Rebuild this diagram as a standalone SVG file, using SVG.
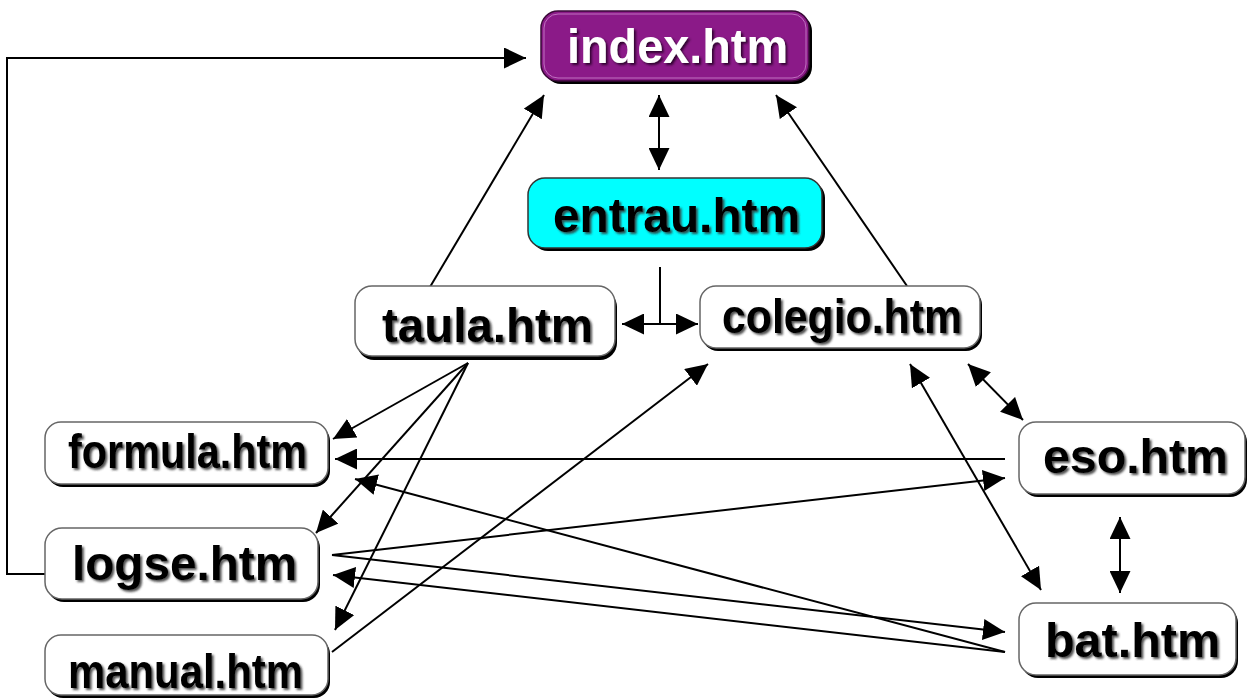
<svg xmlns="http://www.w3.org/2000/svg" width="1250" height="698" viewBox="0 0 1250 698">
<defs>
<style>
.edge{fill:none;stroke:#000;stroke-width:2}
.end{marker-end:url(#ah)}
.both{marker-start:url(#ah);marker-end:url(#ah)}
.shadow{fill:#000}
.wbox{fill:#fff;stroke:#666;stroke-width:1.5}
.lbl{font-family:"Liberation Sans",Arial,sans-serif;font-weight:bold;font-size:48px;fill:#000;filter:url(#ts)}
.lblw{font-family:"Liberation Sans",Arial,sans-serif;font-weight:bold;font-size:48px;fill:#fff;filter:url(#tsd)}
</style>
<marker id="ah" viewBox="0 0 22 21" refX="22" refY="10.5" markerWidth="22" markerHeight="21" markerUnits="userSpaceOnUse" orient="auto-start-reverse">
<path d="M0,0 L22,10.5 L0,21 Z" fill="#000"/>
</marker>
<filter id="ts" x="-10%" y="-20%" width="120%" height="150%">
<feDropShadow dx="2" dy="2" stdDeviation="1" flood-color="#333" flood-opacity="0.85"/>
</filter>
<filter id="tsd" x="-10%" y="-20%" width="120%" height="150%">
<feDropShadow dx="2" dy="2" stdDeviation="1" flood-color="#2a002a" flood-opacity="0.9"/>
</filter>
</defs>
<rect width="1250" height="698" fill="#fff"/>

<g id="connectors">
<polyline class="edge end" points="45,574 7,574 7,58 526,58"/>
<line class="edge end" x1="430" y1="287" x2="544" y2="95"/>
<line class="edge both" x1="659" y1="95" x2="659" y2="170"/>
<line class="edge end" x1="907" y1="286" x2="776" y2="95"/>
<polyline class="edge" points="660,267 660,324"/>
<line class="edge end" x1="660" y1="324" x2="622" y2="324"/>
<line class="edge end" x1="660" y1="324" x2="698" y2="324"/>
<line class="edge end" x1="468" y1="363" x2="333" y2="439"/>
<line class="edge end" x1="468" y1="363" x2="316" y2="533"/>
<line class="edge end" x1="468" y1="363" x2="335" y2="630"/>
<line class="edge end" x1="332" y1="652" x2="708" y2="364"/>
<line class="edge end" x1="1005" y1="459" x2="335" y2="459"/>
<line class="edge end" x1="332" y1="555" x2="1005" y2="478"/>
<line class="edge end" x1="332" y1="555" x2="1005" y2="632"/>
<line class="edge end" x1="1005" y1="652" x2="333" y2="575"/>
<line class="edge end" x1="1005" y1="652" x2="355" y2="479"/>
<line class="edge both" x1="910" y1="364" x2="1041" y2="590"/>
<line class="edge both" x1="968" y1="364" x2="1023" y2="420"/>
<line class="edge both" x1="1120" y1="517" x2="1120" y2="593"/>
</g>

<g id="index">
<rect class="shadow" x="544" y="14" width="268" height="70" rx="17"/>
<rect x="541" y="11" width="268" height="70" rx="17" fill="#8b1a88" stroke="#3a0a38" stroke-width="1.5"/>
<rect x="544" y="14" width="262" height="64" rx="14" fill="none" stroke="#c070c0" stroke-width="1"/>
<text class="lblw" x="567" y="63" textLength="221" lengthAdjust="spacingAndGlyphs">index.htm</text>
</g>

<g id="entrau">
<rect class="shadow" x="531" y="181" width="294" height="70" rx="17"/>
<rect x="528" y="178" width="294" height="70" rx="17" fill="#00ffff" stroke="#333" stroke-width="1.5"/>
<text class="lbl" x="553" y="232" textLength="247" lengthAdjust="spacingAndGlyphs">entrau.htm</text>
</g>

<g id="taula">
<rect class="shadow" x="357" y="290" width="260" height="70" rx="17"/>
<rect class="wbox" x="355" y="286" width="260" height="70" rx="17"/>
<text class="lbl" x="382" y="342" font-size="52" textLength="211" lengthAdjust="spacingAndGlyphs">taula.htm</text>
</g>

<g id="colegio">
<rect class="shadow" x="702" y="289" width="280" height="62" rx="16"/>
<rect class="wbox" x="700" y="286" width="280" height="62" rx="16"/>
<text class="lbl" x="722" y="333" font-size="43" textLength="240" lengthAdjust="spacingAndGlyphs">colegio.htm</text>
</g>

<g id="formula">
<rect class="shadow" x="47" y="425" width="283" height="62" rx="16"/>
<rect class="wbox" x="45" y="422" width="283" height="62" rx="16"/>
<text class="lbl" x="68" y="468" textLength="239" lengthAdjust="spacingAndGlyphs">formula.htm</text>
</g>

<g id="logse">
<rect class="shadow" x="47" y="531" width="273" height="71" rx="17"/>
<rect class="wbox" x="45" y="528" width="273" height="71" rx="17"/>
<text class="lbl" x="72" y="580" textLength="225" lengthAdjust="spacingAndGlyphs">logse.htm</text>
</g>

<g id="manual">
<rect class="shadow" x="47" y="638" width="283" height="60" rx="16"/>
<rect class="wbox" x="45" y="635" width="283" height="60" rx="16"/>
<text class="lbl" x="68" y="688" font-size="46" textLength="235" lengthAdjust="spacingAndGlyphs">manual.htm</text>
</g>

<g id="eso">
<rect class="shadow" x="1021" y="425" width="226" height="72" rx="17"/>
<rect class="wbox" x="1019" y="422" width="226" height="72" rx="17"/>
<text class="lbl" x="1043" y="473" font-size="46" textLength="185" lengthAdjust="spacingAndGlyphs">eso.htm</text>
</g>

<g id="bat">
<rect class="shadow" x="1021" y="606" width="217" height="72" rx="17"/>
<rect class="wbox" x="1019" y="603" width="217" height="72" rx="17"/>
<text class="lbl" x="1045" y="657" textLength="175" lengthAdjust="spacingAndGlyphs">bat.htm</text>
</g>
</svg>
